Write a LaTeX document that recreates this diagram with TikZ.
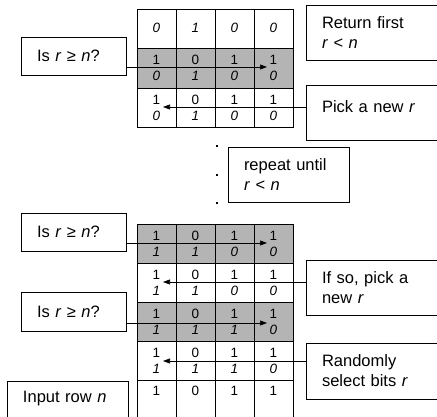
\documentclass[tikz,border=0pt]{standalone}
\usepackage{fontspec}
\setmainfont{Liberation Sans}
\usetikzlibrary{arrows.meta, positioning, calc}

\definecolor{cellgray}{RGB}{180,180,180}

\begin{document}
\begin{tikzpicture}[x=1pt, y=-1pt,
		box/.style={draw, line width=0.8pt, align=left, inner xsep=16pt, inner ysep=0pt, font=\fontsize{16.5}{20}\selectfont},
		bit/.style={inner sep=0pt, font=\fontsize{13.5}{15}\selectfont},
		ibit/.style={inner sep=0pt, font=\fontsize{13.5}{15}\selectfont\itshape},
		arr/.style={-{Triangle[length=7pt,width=5pt]}, line width=0.6pt}]
		\useasboundingbox (0,0) rectangle (437,417);
		\clip (0,0) rectangle (437,417);
		
		% grids
		\fill[cellgray] (137,48) rectangle (293,88);
		\fill[cellgray] (137,224) rectangle (293,263);
		\fill[cellgray] (137,302) rectangle (293,341);
		\draw[line width=0.7pt] (137,9) rectangle (293,127);
		\foreach \x in {176,215,254} \draw[line width=0.7pt] (\x,9) -- (\x,127);
		\foreach \y in {48,88} \draw[line width=0.7pt] (137,\y) -- (293,\y);
		\foreach \x in {137,176,215,254,293} \draw[line width=0.7pt] (\x,224) -- (\x,430);
		\foreach \y in {224,263,302,341,380} \draw[line width=0.7pt] (137,\y) -- (293,\y);
		
		\foreach \y/\s/\bits [count=\r] in {28/ibit/{0,1,0,0}, 60/bit/{1,0,1,1}, 76/ibit/{0,1,0,0},
			100/bit/{1,0,1,1}, 116/ibit/{0,1,0,0}, 236/bit/{1,0,1,1}, 252/ibit/{1,1,0,0},
			275/bit/{1,0,1,1}, 291/ibit/{1,1,0,0}, 314/bit/{1,0,1,1}, 330/ibit/{1,1,1,0},
			353/bit/{1,0,1,1}, 369/ibit/{1,1,1,0}, 391/bit/{1,0,1,1}}
		{
			\foreach \b [count=\i] in \bits
				\node[\s] (c\r-\i) at ({117.5+39*\i},\y) {\b};
		}
		
		% text boxes
		\node[box, text width=73pt, minimum height=38pt] (isr1) at (73.5,56) {Is \textit{r} ≥ \textit{n}?};
		\node[box, text width=73pt, minimum height=38pt] (isr2) at (73.5,232) {Is \textit{r} ≥ \textit{n}?};
		\node[box, text width=73pt, minimum height=39pt] (isr3) at (73.5,311.5) {Is \textit{r} ≥ \textit{n}?};
		\node[box, text width=89pt, minimum height=60pt, text depth=27.5pt] (input) at (67.5,411) {Input row \textit{n}};
		\node[box, text width=118pt, minimum height=55pt] (ret) at (381,32.5) {Return first\\\textit{r} < \textit{n}};
		\node[box, text width=118pt, minimum height=55pt, text depth=11.5pt] (pick) at (381,112.5) {Pick a new \textit{r}};
		\node[box, text width=89pt, minimum height=55pt] (rep) at (288.5,174.5) {repeat until\\\textit{r} < \textit{n}};
		\node[box, text width=118pt, minimum height=55pt] (ifso) at (381,287.5) {If so, pick a\\new \textit{r}};
		\node[box, text width=118pt, minimum height=56pt] (rand) at (381,371) {Randomly\\select bits \textit{r}};
		
		% dots
		\foreach \y in {146,175,203} \fill (217,\y) ++(-1.3,-1.3) rectangle ++(2.6,2.6);
		
		% arrows into the rows
		\coordinate (t1) at (267,67);
		\coordinate (t2) at (163,107);
		\coordinate (t3) at (267,243);
		\coordinate (t4) at (163,282);
		\coordinate (t5) at (267,323);
		\coordinate (t6) at (163,361);
		\draw[arr] (t1 -| isr1.east) -- (t1);
		\draw[arr] (t2 -| pick.west) -- (t2);
		\draw[arr] (t3 -| isr2.east) -- (t3);
		\draw[arr] (t4 -| ifso.west) -- (t4);
		\draw[arr] (t5 -| isr3.east) -- (t5);
		\draw[arr] (t6 -| rand.west) -- (t6);
	\end{tikzpicture}
\end{document}
